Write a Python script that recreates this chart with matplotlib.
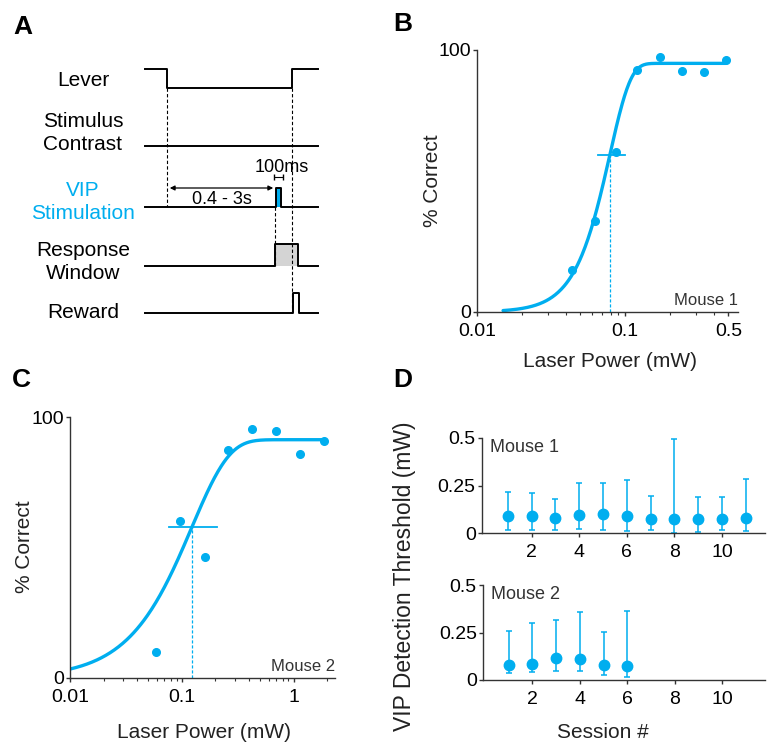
import numpy as np
import matplotlib.pyplot as plt
from matplotlib.ticker import NullFormatter

plt.rcParams['font.family'] = ['Liberation Sans', 'DejaVu Sans']

W, H = 768, 742
BLUE = '#00aeef'
AXC = '#333333'

# ---- panel A: trial timing (schematic time units) ----
trace_end = 17.3
lever_press, lever_release = 2.2, 14.7
stim_on, stim_off = 13.1, 13.6
resp_on, resp_off = 13.0, 15.3
reward_on, reward_off = 14.8, 15.4
row_names = ['Lever', 'Stimulus\nContrast', 'VIP\nStimulation', 'Response\nWindow', 'Reward']
row_base = [88, 146, 207, 266, 313]
row_label_y = [80, 133, 202, 262, 312]
pulse_h = [19, 0, 19, 22, 20]

# ---- panel B / C: psychometric data ----
power_m1 = [0.0436, 0.0626, 0.087, 0.121, 0.173, 0.243, 0.342, 0.481]
correct_m1 = [15.9, 34.8, 61.1, 92.4, 97.5, 92.1, 91.5, 96.2]
fit_m1 = dict(top=94.9, thresh=0.079, slope=3.1, lo=0.015, hi=0.48)
ci_m1 = (0.0655, 0.1)

power_m2 = [0.0585, 0.0972, 0.160, 0.260, 0.428, 0.694, 1.14, 1.88]
correct_m2 = [9.8, 60.0, 46.5, 87.5, 95.5, 94.5, 85.8, 90.9]
fit_m2 = dict(top=91.3, thresh=0.123, slope=1.3, lo=0.01, hi=1.88)
ci_m2 = (0.077, 0.206)

# ---- panel D: thresholds per session ----
sessions_m1 = list(range(1, 12))
thr_m1 = [0.088, 0.088, 0.081, 0.095, 0.098, 0.091, 0.075, 0.075, 0.075, 0.072, 0.081]
thr_m1_lo = [0.018, 0.016, 0.018, 0.023, 0.018, 0.011, 0.014, 0.0, 0.005, 0.016, 0.009]
thr_m1_hi = [0.216, 0.209, 0.179, 0.261, 0.263, 0.277, 0.195, 0.496, 0.191, 0.189, 0.282]

sessions_m2 = list(range(1, 7))
thr_m2 = [0.077, 0.086, 0.116, 0.112, 0.081, 0.072]
thr_m2_lo = [0.035, 0.044, 0.046, 0.046, 0.028, 0.014]
thr_m2_hi = [0.258, 0.300, 0.316, 0.358, 0.251, 0.365]


def box(l, t, r, b):
    return [l / W, 1 - b / H, (r - l) / W, (b - t) / H]


def ftext(x, y, s, **kw):
    fig.text(x / W, 1 - y / H, s, **kw)


def style(ax):
    for s in ['top', 'right']:
        ax.spines[s].set_visible(False)
    for s in ['left', 'bottom']:
        ax.spines[s].set_color(AXC)
        ax.spines[s].set_linewidth(1.0)
    ax.tick_params(which='major', length=3, width=1, color=AXC, labelsize=14, pad=1.5)
    ax.tick_params(axis='x', which='major', pad=5)
    ax.tick_params(which='minor', length=2, width=0.8, color=AXC)


def weibull(x, top, thresh, slope):
    return top * (1 - np.exp(-(x / thresh) ** slope))


fig = plt.figure(figsize=(W / 100, H / 100), dpi=100)

# panel A
ax = fig.add_axes(box(0, 0, 330, 340))
ax.set_xlim(-14.5, 18.5)
ax.set_ylim(340, 0)
ax.axis('off')
lw = 1.4
# lever
b, h = row_base[0], pulse_h[0]
ax.plot([0, lever_press, lever_press, lever_release, lever_release, trace_end],
        [b - h, b - h, b, b, b - h, b - h], color='k', lw=lw)
# stimulus contrast
ax.plot([0, trace_end], [row_base[1]] * 2, color='k', lw=lw)
# pulses
for i, (on, off, fc) in zip([2, 3, 4], [(stim_on, stim_off, BLUE),
                                         (resp_on, resp_off, '#d4d4d4'),
                                         (reward_on, reward_off, None)]):
    b, h = row_base[i], pulse_h[i]
    if fc:
        ax.fill_between([on, off], b, b - h, color=fc, lw=0)
    ax.plot([0, on, on, off, off, trace_end], [b, b, b - h, b - h, b, b], color='k', lw=lw)
for name, y, c in zip(row_names, row_label_y, ['k', 'k', BLUE, 'k', 'k']):
    ax.text(-6.2, y, name, ha='center', va='center', fontsize=15, color=c, linespacing=1.25)
# dashed guides
dk = dict(color='k', lw=0.8, ls=(0, (3, 2)))
ax.plot([lever_press] * 2, [row_base[0], row_base[2]], **dk)
ax.plot([lever_release] * 2, [row_base[0], row_base[4]], **dk)
ax.plot([resp_on] * 2, [row_base[2], row_base[3]], **dk)
ax.annotate('', xy=(stim_on, 188), xytext=(lever_press, 188),
            arrowprops=dict(arrowstyle='<|-|>', color='k', lw=0.9, mutation_scale=7))
ax.text((lever_press + stim_on) / 2, 200, '0.4 - 3s', ha='center', va='center', fontsize=13)
ax.text(13.7, 167, '100ms', ha='center', va='center', fontsize=13)
ax.errorbar([(stim_on + stim_off) / 2], [177], xerr=[[0.45], [0.45]], fmt='none',
            ecolor='k', elinewidth=0.8, capsize=2)

# panels B and C
def psych(bx, power, correct, fit, ci, xlim, xticks, xlabels, mouse):
    ax = fig.add_axes(box(*bx))
    style(ax)
    ax.set_xscale('log')
    ax.set_xlim(*xlim)
    ax.set_ylim(0, 100)
    xs = np.logspace(np.log10(fit['lo']), np.log10(fit['hi']), 300)
    ax.plot(xs, weibull(xs, fit['top'], fit['thresh'], fit['slope']), color=BLUE, lw=2.4,
            solid_capstyle='round')
    ax.plot(power, correct, 'o', color=BLUE, ms=5.5, clip_on=False)
    ty = weibull(fit['thresh'], fit['top'], fit['thresh'], fit['slope'])
    ax.plot(ci, [ty, ty], color=BLUE, lw=1.3)
    ax.plot([fit['thresh']] * 2, [0, ty], color=BLUE, lw=0.9, ls=(0, (2.5, 1.5)))
    ax.set_yticks([0, 100])
    ax.set_yticklabels(['0', '100'])
    ax.set_xticks(xticks)
    ax.set_xticklabels(xlabels)
    ax.xaxis.set_minor_formatter(NullFormatter())
    ax.text(1.0, 0.015, mouse, transform=ax.transAxes, ha='right', va='bottom',
            fontsize=12, color='#333333')
    return ax


psych((477, 50, 738, 312), power_m1, correct_m1, fit_m1, ci_m1, (0.01, 0.58),
      [0.01, 0.1, 0.5], ['0.01', '0.1', '0.5'], 'Mouse 1')
ftext(610, 362, 'Laser Power (mW)', ha='center', va='center', fontsize=15, color='#222222')
ftext(432, 181, '% Correct', ha='center', va='center', rotation=90, fontsize=15, color='#222222')

psych((70, 417, 335, 678), power_m2, correct_m2, fit_m2, ci_m2, (0.01, 2.35),
      [0.01, 0.1, 1], ['0.01', '0.1', '1'], 'Mouse 2')
ftext(204, 732, 'Laser Power (mW)', ha='center', va='center', fontsize=15, color='#222222')
ftext(25, 547, '% Correct', ha='center', va='center', rotation=90, fontsize=15, color='#222222')

# panel D
for bx, ses, thr, lo, hi, mouse in [((482, 438, 765, 533), sessions_m1, thr_m1, thr_m1_lo, thr_m1_hi, 'Mouse 1'),
                                     ((483, 585, 765, 680), sessions_m2, thr_m2, thr_m2_lo, thr_m2_hi, 'Mouse 2')]:
    ax = fig.add_axes(box(*bx))
    style(ax)
    ax.set_xlim(-0.08, 11.8)
    ax.set_ylim(0, 0.5)
    thr_a = np.array(thr)
    yerr = [thr_a - np.array(lo), np.array(hi) - thr_a]
    ax.errorbar(ses, thr, yerr=yerr, fmt='o', color=BLUE, ms=7.5, elinewidth=1.1,
                capsize=2.5, capthick=1.1, clip_on=False)
    ax.set_yticks([0, 0.25, 0.5])
    ax.set_yticklabels(['0', '0.25', '0.5'])
    ax.set_xticks([2, 4, 6, 8, 10])
    ax.text(0.03, 0.9, mouse, transform=ax.transAxes, ha='left', va='center', fontsize=13,
            color='#333333')
ftext(603, 732, 'Session #', ha='center', va='center', fontsize=15, color='#222222')
ftext(405, 576, 'VIP Detection Threshold (mW)', ha='center', va='center', rotation=90,
      fontsize=16.5, color='#222222')

# panel letters
for x, y, s in [(13, 27, 'A'), (393, 24, 'B'), (12, 380, 'C'), (393, 380, 'D')]:
    ftext(x, y, s, ha='left', va='center', fontsize=19, fontweight='bold')

fig.savefig('out.png', dpi=100)
